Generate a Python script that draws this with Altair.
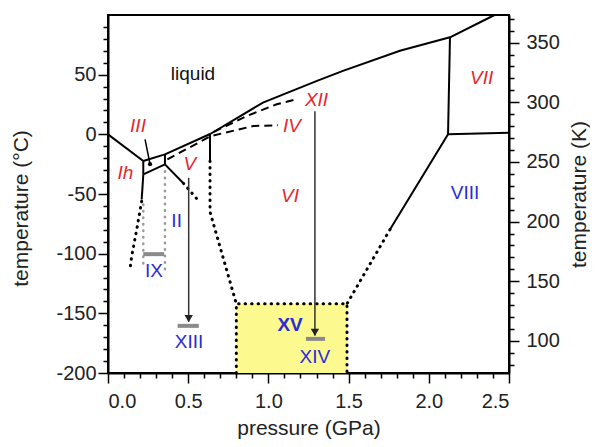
import altair as alt
import pandas as pd

# ---------------- data (pressure GPa, temperature °C) ----------------
# solid phase boundaries
liq_Ih_P = [0.0, 0.22];            liq_Ih_T = [0.0, -22.4]
liq_III_P = [0.22, 0.355];         liq_III_T = [-22.4, -16.8]
liq_V_P = [0.355, 0.64];           liq_V_T = [-16.8, 0.5]
liq_VI_P = [0.64, 0.966, 1.303, 1.465, 1.82, 2.132]
liq_VI_T = [0.5, 26.6, 44.8, 53.2, 70.0, 81.3]
liq_VII_P = [2.132, 2.41];         liq_VII_T = [81.3, 100.0]
VI_VII_P = [2.132, 2.12];          VI_VII_T = [81.3, 0.0]
VII_VIII_P = [2.12, 2.5];          VII_VIII_T = [0.0, 1.4]
VI_VIII_P = [2.12, 1.758];         VI_VIII_T = [0.0, -79.8]
Ih_III_P = [0.22, 0.22];           Ih_III_T = [-22.4, -33.6]
III_II_P = [0.22, 0.355];          III_II_T = [-33.6, -25.2]
III_V_P = [0.355, 0.355];          III_V_T = [-16.8, -25.2]
II_V_P = [0.355, 0.47];            II_V_T = [-25.2, -41.0]
Ih_II_P = [0.22, 0.21];            Ih_II_T = [-33.6, -54.6]
V_VI_P = [0.636, 0.636];           V_VI_T = [0.5, -22.4]

# dotted extrapolations
Ih_II_ext_P = [0.21, 0.179, 0.148, 0.137];   Ih_II_ext_T = [-56.0, -79.8, -102.0, -113.0]
II_V_ext_P = [0.47, 0.56];                   II_V_ext_T = [-41.0, -55.0]
V_VI_ext_P = [0.636, 0.636, 0.80];           V_VI_ext_T = [-22.4, -65.0, -142.0]
VI_VIII_ext_P = [1.758, 1.49];               VI_VIII_ext_T = [-79.8, -142.0]
XV_box_P = [0.80, 0.80, 1.49, 1.49];         XV_box_T = [-200.0, -142.0, -142.0, -200.0]

# grey dotted (ice IX)
IX_left_P = [0.22, 0.22];          IX_left_T = [-58.8, -113.0]
IX_right_P = [0.355, 0.355];       IX_right_T = [-31.0, -113.0]

# dashed metastable boundaries (IV, XII)
IV_P = [0.37, 0.64, 0.906, 1.06];   IV_T = [-21.0, -1.5, 7.0, 7.6]
XII_P = [0.66, 0.865, 1.052, 1.176]; XII_T = [2.0, 15.4, 25.2, 29.4]

# yellow XV region
box_P = [0.80]; box_P2 = [1.49]; box_T = [-200.0]; box_T2 = [-142.0]

# grey bars (IX, XIII, XIV)
bar_P = [0.22, 0.434, 1.234]; bar_P2 = [0.35, 0.566, 1.353]; bar_T = [-100.4, -160.5, -171.4]

# arrows (V -> XIII, XII -> XIV)
arrow_P = [0.503, 1.29]; arrow_T = [-36.4, 19.3]; arrow_T2 = [-157.0, -168.5]; head_T = [-154.5, -166.0]

# III pointer
ptr_P = [0.231, 0.262]; ptr_T = [-4.2, -25.0]

# labels
red_text = ["III", "Ih", "V", "VI", "IV", "XII", "VII"]
red_P = [0.187, 0.109, 0.511, 1.135, 1.147, 1.30, 2.33]
red_T = [6.7, -32.8, -25.2, -52.0, 6.7, 28.6, 47.6]
blue_text = ["VIII", "II", "IX", "XIII", "XIV"]
blue_P = [2.226, 0.428, 0.287, 0.505, 1.29]
blue_T = [-49.0, -72.9, -114.9, -174.0, -186.3]
bold_text = ["XV"]; bold_P = [1.135]; bold_T = [-159.7]
black_text = ["liquid"]; black_P = [0.53]; black_T = [50.4]

x_ticks = [round(i * 0.1, 1) for i in range(26)]
y_ticks = list(range(-200, 100, 10))
k_ticks = list(range(80, 380, 10))

# ---------------- build tables ----------------
def seg(name, P, T):
    return pd.DataFrame({"seg": name, "P": P, "T": T, "ord": list(range(len(P)))})

solid = pd.concat([
    seg("liq_Ih", liq_Ih_P, liq_Ih_T), seg("liq_III", liq_III_P, liq_III_T),
    seg("liq_V", liq_V_P, liq_V_T), seg("liq_VI", liq_VI_P, liq_VI_T),
    seg("liq_VII", liq_VII_P, liq_VII_T), seg("VI_VII", VI_VII_P, VI_VII_T),
    seg("VII_VIII", VII_VIII_P, VII_VIII_T), seg("VI_VIII", VI_VIII_P, VI_VIII_T),
    seg("Ih_III", Ih_III_P, Ih_III_T), seg("III_II", III_II_P, III_II_T),
    seg("III_V", III_V_P, III_V_T), seg("II_V", II_V_P, II_V_T),
    seg("Ih_II", Ih_II_P, Ih_II_T), seg("V_VI", V_VI_P, V_VI_T),
])
dotted = pd.concat([
    seg("a", Ih_II_ext_P, Ih_II_ext_T), seg("b", II_V_ext_P, II_V_ext_T),
    seg("c", V_VI_ext_P, V_VI_ext_T), seg("d", VI_VIII_ext_P, VI_VIII_ext_T),
    seg("e", XV_box_P, XV_box_T),
])
grey_dotted = pd.concat([seg("l", IX_left_P, IX_left_T), seg("r", IX_right_P, IX_right_T)])
dashed = pd.concat([seg("IV", IV_P, IV_T), seg("XII", XII_P, XII_T)])

FONT = "Liberation Sans"
RED = "#E5262C"
BLUE = "#2B2BD8"

xs = alt.Scale(domain=[0, 2.5], nice=False, zero=False)
ys = alt.Scale(domain=[-200, 100], nice=False, zero=False)

x_axis = alt.Axis(
    title="pressure (GPa)", values=x_ticks,
    labelExpr="abs(datum.value*2 - round(datum.value*2)) < 0.001 ? format(datum.value, '.1f') : ''",
    tickSize={"condition": {"test": "abs(datum.value*2 - round(datum.value*2)) < 0.001", "value": 10}, "value": 5},
    labelPadding=8, titleY=55, titleBaseline="middle",
)
y_axis = alt.Axis(
    title="temperature (°C)", values=y_ticks, orient="left",
    labelExpr="datum.value % 50 === 0 ? '' + datum.value : ''",
    tickSize={"condition": {"test": "datum.value % 50 === 0", "value": 10}, "value": 5},
    labelPadding=2, titleX=-87, titleY=193, titleAngle=270, titleBaseline="middle",
)

X = alt.X("P:Q", scale=xs, axis=x_axis)
Y = alt.Y("T:Q", scale=ys, axis=y_axis)

def tab(**kw):
    return pd.DataFrame(kw)

rect = alt.Chart(tab(P=box_P, P2=box_P2, T=box_T, T2=box_T2)).mark_rect(color="#FCFA8E").encode(
    x=X, x2="P2:Q", y=Y, y2="T2:Q")

def line_layer(df, **style):
    return alt.Chart(df).mark_line(**style).encode(x=X, y=Y, detail="seg:N", order="ord:Q")

solid_l = line_layer(solid, color="black", strokeWidth=2)
dotted_l = line_layer(dotted, color="black", strokeWidth=3, strokeDash=[0.5, 6], strokeCap="round")
grey_l = line_layer(grey_dotted, color="#9a9a9a", strokeWidth=2.5, strokeDash=[0.5, 6], strokeCap="round")
dashed_l = line_layer(dashed, color="black", strokeWidth=2, strokeDash=[8, 5])

bars = alt.Chart(tab(P=bar_P, P2=bar_P2, T=bar_T)).mark_rule(color="#8a8a8a", strokeWidth=4).encode(
    x=X, x2="P2:Q", y=Y)
arrows = alt.Chart(tab(P=arrow_P, T=arrow_T, T2=arrow_T2)).mark_rule(color="#333333", strokeWidth=1.5).encode(
    x=X, y=Y, y2="T2:Q")
heads = alt.Chart(tab(P=arrow_P, T=head_T)).mark_point(
    shape="triangle-down", filled=True, color="#222222", size=70, opacity=1).encode(x=X, y=Y)
ptr = alt.Chart(seg("ptr", ptr_P, ptr_T)).mark_line(color="black", strokeWidth=1.5).encode(x=X, y=Y, order="ord:Q")
ptr_dot = alt.Chart(tab(P=[ptr_P[1]], T=[ptr_T[1]])).mark_point(filled=True, color="black", size=18, opacity=1).encode(x=X, y=Y)

def text_layer(texts, P, T, color, size=19, style="normal", weight="normal"):
    return alt.Chart(tab(label=texts, P=P, T=T)).mark_text(
        font=FONT, fontSize=size, fontStyle=style, fontWeight=weight, color=color,
        align="center", baseline="middle").encode(x=X, y=Y, text="label:N")

t_red = text_layer(red_text, red_P, red_T, RED, style="italic")
t_blue = text_layer(blue_text, blue_P, blue_T, BLUE)
t_bold = text_layer(bold_text, bold_P, bold_T, BLUE, weight="bold")
t_black = text_layer(black_text, black_P, black_T, "#111111")

main = alt.layer(rect, solid_l, dotted_l, grey_l, dashed_l, bars, arrows, heads, ptr, ptr_dot,
                 t_red, t_blue, t_bold, t_black)

k_axis = alt.Axis(
    title="temperature (K)", values=k_ticks, orient="right",
    labelExpr="datum.value % 50 === 0 ? '' + datum.value : ''",
    tickSize={"condition": {"test": "datum.value % 50 === 0", "value": 10}, "value": 5},
    labelPadding=7, titleX=70, titleY=179, titleAngle=270, titleBaseline="middle",
)
kelvin = alt.Chart(tab(K=[73.15, 373.15])).mark_point(opacity=0).encode(
    y=alt.Y("K:Q", scale=alt.Scale(domain=[73.15, 373.15], nice=False, zero=False), axis=k_axis))

chart = alt.layer(main, kelvin).resolve_scale(y="independent").properties(
    width=401, height=358,
    autosize=alt.AutoSizeParams(type="none"),
    padding={"left": 100, "top": 7, "right": 81, "bottom": 66},
).configure_view(stroke="black", strokeWidth=2).configure_axis(
    labelFont=FONT, labelFontSize=20, labelColor="#222222",
    titleFont=FONT, titleFontSize=21, titleFontWeight="normal", titleColor="#222222",
    domainColor="black", domainWidth=2, tickColor="black", tickWidth=1.5, grid=False,
)

chart.save("out.html", embed_options={"renderer": "svg", "actions": False})
